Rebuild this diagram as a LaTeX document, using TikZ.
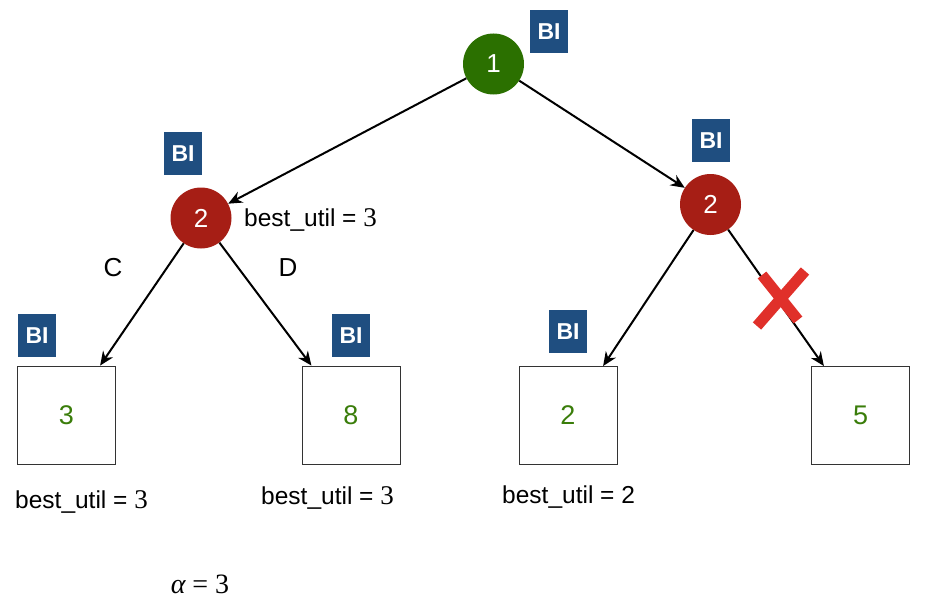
\documentclass[tikz,border=0pt]{standalone}
\usepackage{fontspec}
\setmainfont{Liberation Sans}
\newfontfamily\seriffont{Liberation Serif}
\usetikzlibrary{arrows.meta,calc}
\definecolor{nodegreen}{HTML}{2B7000}
\definecolor{nodered}{HTML}{A61E15}
\definecolor{biblue}{HTML}{1F4E80}
\definecolor{numgreen}{HTML}{3A7D0A}
\definecolor{crossred}{HTML}{E0302A}
\tikzset{
  circnode/.style={circle, minimum size=61pt, inner sep=0pt, text=white, font=\fontsize{26}{30}\selectfont},
  leafbox/.style={draw=black!80, line width=0.9pt, minimum width=98pt, minimum height=98pt, inner sep=0pt, text=numgreen, font=\fontsize{27}{30}\selectfont},
  bibox/.style={fill=biblue, minimum width=38pt, minimum height=43pt, inner sep=0pt, text=white, font=\fontsize{23}{26}\selectfont\bfseries},
  lbl/.style={inner sep=0pt, font=\fontsize{24.5}{28}\selectfont},
  edge/.style={line width=2pt, -{Stealth[length=14pt,width=12pt]}},
  crossline/.style={crossred, line width=11pt}
}
\newcommand{\bu}[1]{best\_util = {\seriffont\fontsize{27}{30}\selectfont #1}}
\begin{document}
\begin{tikzpicture}[x=1pt,y=-1pt]
\useasboundingbox (0,0) rectangle (932,602);
% inner nodes
\node[circnode, fill=nodegreen] (n1) at (493.5,64) {1};
\node[circnode, fill=nodered] (l2) at (201,218) {2};
\node[circnode, fill=nodered] (r2) at (710.5,204.5) {2};
% leaves
\node[leafbox] (a) at (66.5,415) {3};
\node[leafbox] (b) at (351,415) {8};
\node[leafbox] (c) at (568,415.5) {2};
\node[leafbox] (d) at (860.5,415.5) {5};
% BI boxes
\node[bibox] (bi1) at (549,31.5) {BI};
\node[bibox] (bi2) at (183,153.5) {BI};
\node[bibox] (bi3) at (711,140.5) {BI};
\node[bibox] (bi4) at (37,335.5) {BI};
\node[bibox] (bi5) at (351,335.5) {BI};
\node[bibox] (bi6) at (568,331.5) {BI};
% arrow targets on leaf tops
\coordinate (ta) at ($(a.north west)!0.84!(a.north east)$);
\coordinate (tb) at ($(b.north west)!0.10!(b.north east)$);
\coordinate (tc) at ($(c.north west)!0.855!(c.north east)$);
\coordinate (td) at ($(d.north west)!0.13!(d.north east)$);
% edges
\draw[edge] (n1) -- (l2);
\draw[edge] (n1) -- (r2);
\draw[edge] (l2) -- (ta);
\draw[edge] (l2) -- (tb);
\draw[edge] (r2) -- (tc);
\draw[edge] (r2) -- (td);
% cross
\coordinate (x1) at (762,275);
\coordinate (x2) at (798,320);
\coordinate (x3) at (805,271);
\coordinate (x4) at (757,326);
\draw[crossline] (x1) -- (x2);
\draw[crossline] (x3) -- (x4);
% labels
\node[lbl, anchor=west] (bl2) at (244,220) {\bu{3}};
\node[lbl, font=\fontsize{26}{30}\selectfont] (lc) at (113,268) {C};
\node[lbl, font=\fontsize{26}{30}\selectfont] (ld) at (288,268) {D};
\node[lbl, anchor=west] (ba) at (15,502) {\bu{3}};
\node[lbl, anchor=west] (bb) at (261,498) {\bu{3}};
\node[lbl, anchor=west] (bc) at (502,497) {best\_util = 2};
\node[lbl, font=\seriffont\fontsize{28}{32}\selectfont] (alpha) at (200,584) {{\itshape α} = 3};
\end{tikzpicture}
\end{document}
